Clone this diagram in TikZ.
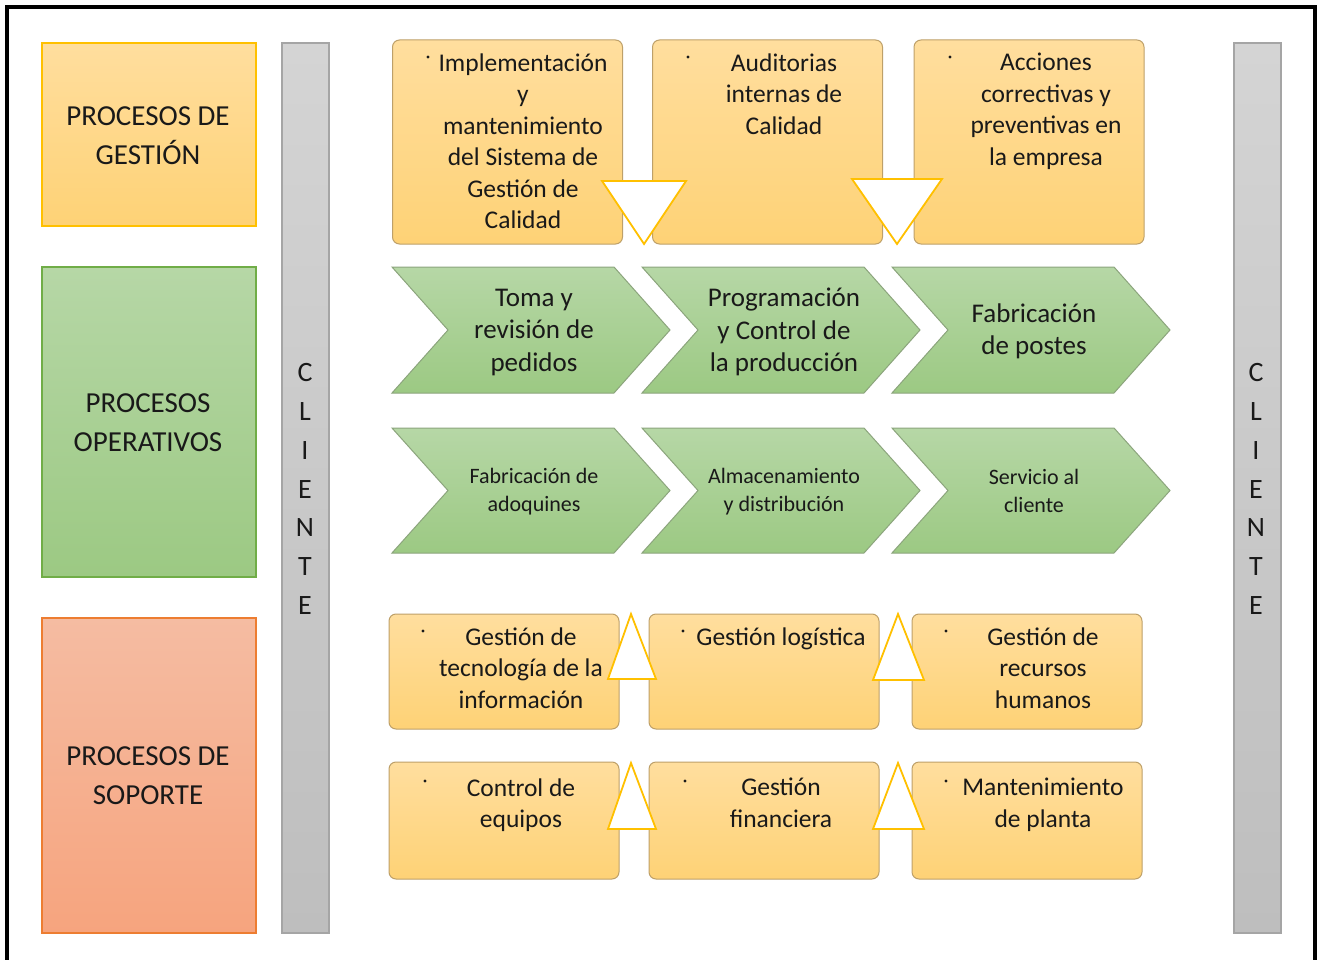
\documentclass[tikz,border=0pt]{standalone}
\usepackage{fontspec}
\setmainfont{Carlito}
\definecolor{gestTop}{RGB}{255,222,158}
\definecolor{gestBot}{RGB}{254,210,118}
\definecolor{gestLine}{RGB}{255,192,0}
\definecolor{opTop}{RGB}{182,215,166}
\definecolor{opBot}{RGB}{156,201,131}
\definecolor{opLine}{RGB}{112,173,71}
\definecolor{sopTop}{RGB}{245,188,162}
\definecolor{sopBot}{RGB}{246,164,126}
\definecolor{sopLine}{RGB}{237,125,49}
\definecolor{grayTop}{RGB}{212,212,212}
\definecolor{grayBot}{RGB}{190,190,190}
\definecolor{grayLine}{RGB}{165,165,165}
\definecolor{boxLine}{RGB}{190,160,105}
\definecolor{chevLine}{RGB}{140,165,125}
\definecolor{txt}{RGB}{25,25,25}
\begin{document}
\begin{tikzpicture}[x=1pt,y=-1pt,
  catbox/.style={rectangle, line width=1.5pt, minimum width=214pt, inner sep=0pt},
  gestbox/.style={catbox, draw=gestLine, top color=gestTop, bottom color=gestBot},
  opbox/.style={catbox, draw=opLine, top color=opTop, bottom color=opBot},
  sopbox/.style={catbox, draw=sopLine, top color=sopTop, bottom color=sopBot},
  clibar/.style={rectangle, draw=grayLine, line width=1.5pt, top color=grayTop, bottom color=grayBot, minimum width=47pt, minimum height=890pt, inner sep=0pt},
  procbox/.style={rectangle, rounded corners=7pt, draw=boxLine, line width=1pt, top color=gestTop, bottom color=gestBot, minimum width=230pt, inner sep=0pt},
  chev/.style={draw=chevLine, line width=1pt, top color=opTop, bottom color=opBot},
  tri/.style={draw=gestLine, fill=white, line width=1.8pt, line join=miter},
  cattext/.style={align=center, text=txt, font=\fontsize{29}{39}\selectfont},
  boxtext/.style={align=center, text=txt, font=\fontsize{25.5}{31.5}\selectfont, inner sep=0pt},
  chevtext/.style={align=center, text=txt, font=\fontsize{27}{32.5}\selectfont, inner sep=0pt},
  chevsmall/.style={align=center, text=txt, font=\fontsize{22}{28}\selectfont, inner sep=0pt},
  clitext/.style={align=center, text=txt, font=\fontsize{28}{38.7}\selectfont, inner sep=0pt},
  bul/.style={fill=txt}
]
\useasboundingbox (0,0) rectangle (1317,960);
\fill[white] (0,0) rectangle (1317,960);
% frame
\draw[line width=4pt] (7,962) -- (7,7) -- (1314.5,7) -- (1314.5,962);

% category boxes
\node[gestbox, minimum height=183pt] (gest) at (149,134.5) {};
\node[opbox, minimum height=310pt] (oper) at (149,422) {};
\node[sopbox, minimum height=315pt] (sop) at (149,775.5) {};
\node[cattext] (gestT) at (148,136) {PROCESOS DE\\GESTIÓN};
\node[cattext] (operT) at (148,423) {PROCESOS\\OPERATIVOS};
\node[cattext] (sopT) at (148,776) {PROCESOS DE\\SOPORTE};

% client bars
\node[clibar] (cliL) at (305.5,488) {};
\node[clibar] (cliR) at (1257.5,488) {};
\node[clitext] (cliLT) at (305,489) {C\\L\\I\\E\\N\\T\\E};
\node[clitext] (cliRT) at (1256,489) {C\\L\\I\\E\\N\\T\\E};

% management boxes
\node[procbox, minimum height=204pt] (m1) at (507.5,142) {};
\node[procbox, minimum height=204pt] (m2) at (767.5,142) {};
\node[procbox, minimum height=204pt] (m3) at (1029,142) {};
\draw[tri] (602,181) -- (686,181) -- (644,244) -- cycle;
\draw[tri] (852,179) -- (942,179) -- (897,244) -- cycle;
\node[boxtext] (m1T) at (523,141) {Implementación\\y\\mantenimiento\\del Sistema de\\Gestión de\\Calidad};
\node[boxtext] (m2T) at (784,94) {Auditorias\\internas de\\Calidad};
\node[boxtext] (m3T) at (1046,111.5) {Acciones\\correctivas y\\preventivas en\\la empresa};
\fill[bul] (428,57) circle (1.6);
\fill[bul] (688,57) circle (1.6);
\fill[bul] (950,57) circle (1.6);

% operative chevrons
\foreach \L/\T/\B in {392/267/393, 642/267/393, 892/267/393, 392/428/553, 642/428/553, 892/428/553}{
  \path[chev] (\L,\T) -- ({\L+222},\T) -- ({\L+278},{(\T+\B)/2}) -- ({\L+222},\B) -- (\L,\B) -- ({\L+56},{(\T+\B)/2}) -- cycle;
}
\node[chevtext] (o1) at (534,332.5) {Toma y\\revisión de\\pedidos};
\node[chevtext] (o2) at (784,332) {Programación\\y Control de\\la producción};
\node[chevtext] (o3) at (1034,331.5) {Fabricación\\de postes};
\node[chevsmall] (o4) at (534,492) {Fabricación de\\adoquines};
\node[chevsmall] (o5) at (784,492) {Almacenamiento\\y distribución};
\node[chevsmall] (o6) at (1034,491) {Servicio al\\cliente};

% support boxes
\node[procbox, minimum height=115pt] (s1) at (504,671.5) {};
\node[procbox, minimum height=115pt] (s2) at (764,671.5) {};
\node[procbox, minimum height=115pt] (s3) at (1027,671.5) {};
\node[procbox, minimum height=117pt] (s4) at (504,820.5) {};
\node[procbox, minimum height=117pt] (s5) at (764,820.5) {};
\node[procbox, minimum height=117pt] (s6) at (1027,820.5) {};
\draw[tri] (608,679) -- (656,679) -- (631,614) -- cycle;
\draw[tri] (873,680) -- (924,680) -- (898,614) -- cycle;
\draw[tri] (608,829) -- (656,829) -- (631,763) -- cycle;
\draw[tri] (873,829) -- (924,829) -- (898,763) -- cycle;
\node[boxtext] (s1T) at (521,668) {Gestión de\\tecnología de la\\información};
\node[boxtext] (s2T) at (781,639) {Gestión logística};
\node[boxtext] (s3T) at (1043,668) {Gestión de\\recursos\\humanos};
\node[boxtext] (s4T) at (521,805) {Control de\\equipos};
\node[boxtext] (s5T) at (781,803) {Gestión\\financiera};
\node[boxtext] (s6T) at (1043,805) {Mantenimiento\\de planta};
\fill[bul] (423,631) circle (1.6);
\fill[bul] (683,631) circle (1.6);
\fill[bul] (946,631) circle (1.6);
\fill[bul] (425,781) circle (1.6);
\fill[bul] (685,781) circle (1.6);
\fill[bul] (946,781) circle (1.6);
\end{tikzpicture}
\end{document}
